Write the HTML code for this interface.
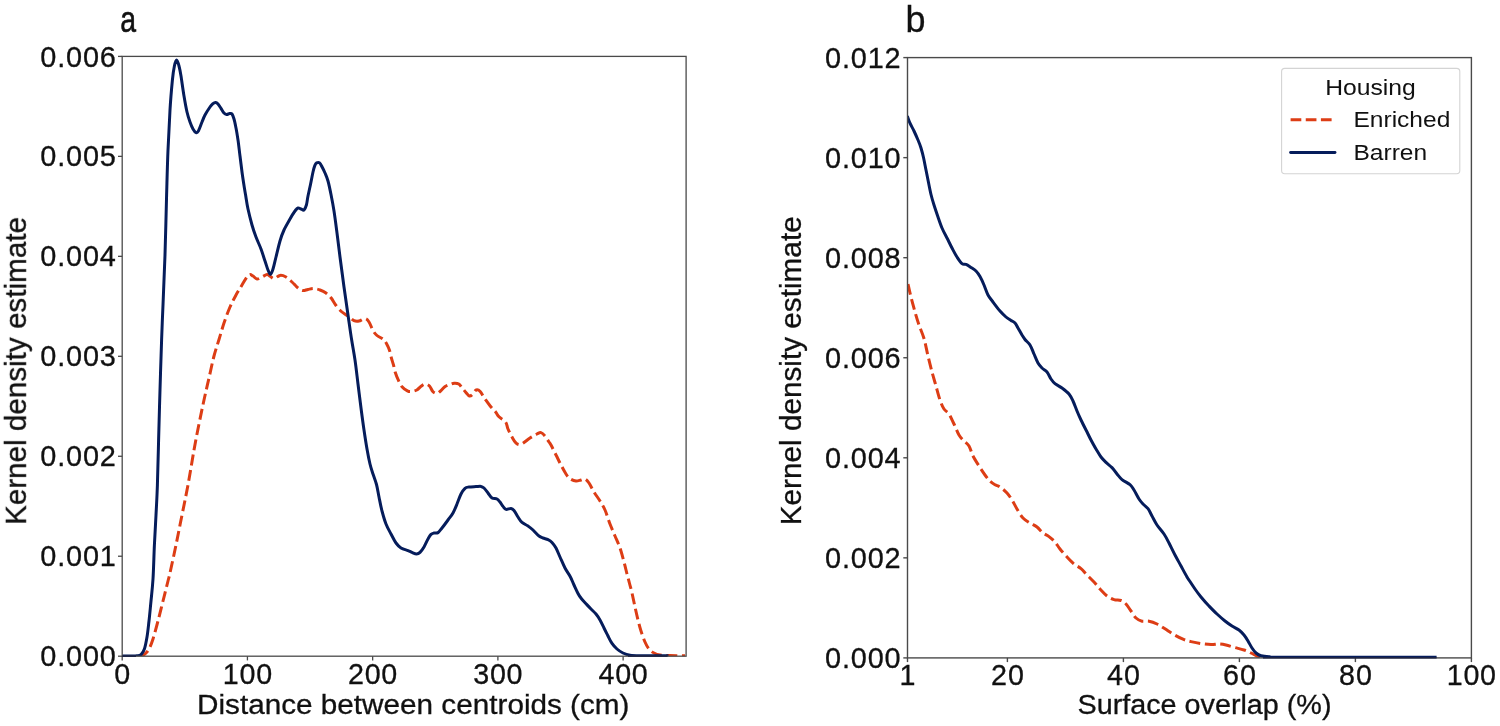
<!DOCTYPE html>
<html><head><meta charset="utf-8"><title>KDE</title><style>
html,body{margin:0;padding:0;background:#fff;}svg{display:block}text{font-family:"Liberation Sans",sans-serif;fill:#111111}
</style></head><body>
<svg width="1500" height="726" viewBox="0 0 1500 726">
<rect x="0" y="0" width="1500" height="726" fill="#ffffff"/>
<g style="opacity:0.999">
<defs><clipPath id="cl"><rect x="122.2" y="56.4" width="563.9" height="599.8000000000001"/></clipPath>
<clipPath id="cr"><rect x="907.5" y="57.6" width="563.9000000000001" height="600.3"/></clipPath></defs>
<line x1="118.0" y1="656.20" x2="122.2" y2="656.20" stroke="#4a4a4a" stroke-width="1.3"/>
<text x="40.3" y="666.3" font-size="28.9" text-anchor="start" textLength="75.6" lengthAdjust="spacing" stroke="#111111" stroke-width="0.3">0.000</text>
<line x1="118.0" y1="556.23" x2="122.2" y2="556.23" stroke="#4a4a4a" stroke-width="1.3"/>
<text x="40.3" y="566.33" font-size="28.9" text-anchor="start" textLength="75.6" lengthAdjust="spacing" stroke="#111111" stroke-width="0.3">0.001</text>
<line x1="118.0" y1="456.27" x2="122.2" y2="456.27" stroke="#4a4a4a" stroke-width="1.3"/>
<text x="40.3" y="466.37" font-size="28.9" text-anchor="start" textLength="75.6" lengthAdjust="spacing" stroke="#111111" stroke-width="0.3">0.002</text>
<line x1="118.0" y1="356.30" x2="122.2" y2="356.30" stroke="#4a4a4a" stroke-width="1.3"/>
<text x="40.3" y="366.4" font-size="28.9" text-anchor="start" textLength="75.6" lengthAdjust="spacing" stroke="#111111" stroke-width="0.3">0.003</text>
<line x1="118.0" y1="256.33" x2="122.2" y2="256.33" stroke="#4a4a4a" stroke-width="1.3"/>
<text x="40.3" y="266.43" font-size="28.9" text-anchor="start" textLength="75.6" lengthAdjust="spacing" stroke="#111111" stroke-width="0.3">0.004</text>
<line x1="118.0" y1="156.37" x2="122.2" y2="156.37" stroke="#4a4a4a" stroke-width="1.3"/>
<text x="40.3" y="166.47" font-size="28.9" text-anchor="start" textLength="75.6" lengthAdjust="spacing" stroke="#111111" stroke-width="0.3">0.005</text>
<line x1="118.0" y1="56.40" x2="122.2" y2="56.40" stroke="#4a4a4a" stroke-width="1.3"/>
<text x="40.3" y="66.5" font-size="28.9" text-anchor="start" textLength="75.6" lengthAdjust="spacing" stroke="#111111" stroke-width="0.3">0.006</text>
<line x1="122.20" y1="656.2" x2="122.20" y2="660.4000000000001" stroke="#4a4a4a" stroke-width="1.3"/>
<text x="122.2" y="683.5" font-size="28.7" text-anchor="middle" stroke="#111111" stroke-width="0.3">0</text>
<line x1="247.43" y1="656.2" x2="247.43" y2="660.4000000000001" stroke="#4a4a4a" stroke-width="1.3"/>
<text x="247.43" y="683.5" font-size="28.7" text-anchor="middle" textLength="49.35" lengthAdjust="spacing" stroke="#111111" stroke-width="0.3">100</text>
<line x1="372.66" y1="656.2" x2="372.66" y2="660.4000000000001" stroke="#4a4a4a" stroke-width="1.3"/>
<text x="372.66" y="683.5" font-size="28.7" text-anchor="middle" textLength="49.35" lengthAdjust="spacing" stroke="#111111" stroke-width="0.3">200</text>
<line x1="497.89" y1="656.2" x2="497.89" y2="660.4000000000001" stroke="#4a4a4a" stroke-width="1.3"/>
<text x="497.89" y="683.5" font-size="28.7" text-anchor="middle" textLength="49.35" lengthAdjust="spacing" stroke="#111111" stroke-width="0.3">300</text>
<line x1="623.12" y1="656.2" x2="623.12" y2="660.4000000000001" stroke="#4a4a4a" stroke-width="1.3"/>
<text x="623.12" y="683.5" font-size="28.7" text-anchor="middle" textLength="49.35" lengthAdjust="spacing" stroke="#111111" stroke-width="0.3">400</text>
<g clip-path="url(#cl)" fill="none" stroke-linejoin="round">
<path d="M141.0,656.0C141.7,655.7 143.7,655.2 145.0,654.0C146.3,652.8 147.7,651.5 149.0,649.0C150.3,646.5 151.5,643.7 153.0,639.0C154.5,634.3 156.3,627.3 158.0,621.0C159.7,614.7 161.3,607.7 163.0,601.0C164.7,594.3 166.8,585.7 168.0,581.0C169.2,576.3 168.7,579.0 170.0,573.0C171.3,567.0 174.0,554.7 176.0,545.0C178.0,535.3 180.0,525.0 182.0,515.0C184.0,505.0 186.0,495.8 188.0,485.0C190.0,474.2 192.2,460.2 194.0,450.0C195.8,439.8 197.3,432.3 199.0,424.0C200.7,415.7 202.3,407.7 204.0,400.0C205.7,392.3 207.3,385.3 209.0,378.0C210.7,370.7 212.3,362.4 214.0,356.0C215.7,349.6 217.3,345.0 219.0,339.5C220.7,334.0 222.2,328.4 224.0,323.0C225.8,317.6 228.0,311.7 230.0,307.0C232.0,302.3 234.0,298.7 236.0,295.0C238.0,291.3 240.2,288.0 242.0,285.0C243.8,282.0 245.7,278.7 247.0,277.0C248.3,275.3 249.0,274.8 250.0,274.6C251.0,274.4 251.8,275.3 253.0,276.0C254.2,276.7 255.5,278.8 257.0,279.0C258.5,279.2 260.3,277.7 262.0,277.0C263.7,276.3 265.6,274.7 267.0,274.6C268.4,274.5 269.3,275.8 270.5,276.5C271.7,277.2 272.4,278.8 274.0,278.6C275.6,278.4 278.0,275.7 280.0,275.4C282.0,275.1 284.0,275.9 286.0,277.0C288.0,278.1 290.0,280.2 292.0,282.0C294.0,283.8 296.2,286.6 298.0,288.0C299.8,289.4 301.3,290.4 303.0,290.6C304.7,290.8 306.2,289.7 308.0,289.4C309.8,289.1 312.0,288.5 314.0,288.6C316.0,288.7 318.0,289.3 320.0,290.0C322.0,290.7 324.2,291.7 326.0,293.0C327.8,294.3 329.3,295.7 331.0,297.8C332.7,299.9 334.2,303.1 336.0,305.5C337.8,307.9 340.0,310.2 342.0,312.0C344.0,313.8 346.0,314.6 348.0,316.0C350.0,317.4 352.2,319.8 354.0,320.6C355.8,321.4 357.2,321.3 359.0,321.0C360.8,320.7 363.3,318.4 365.0,318.6C366.7,318.8 367.7,320.0 369.0,322.0C370.3,324.0 371.7,328.2 373.0,330.5C374.3,332.8 375.3,334.0 377.0,335.5C378.7,337.0 381.8,338.0 383.4,339.4C385.0,340.8 385.7,342.2 386.7,344.0C387.7,345.8 388.6,347.7 389.4,350.0C390.2,352.3 390.7,355.6 391.4,358.0C392.1,360.4 392.7,362.2 393.4,364.7C394.1,367.2 394.6,370.4 395.4,372.8C396.2,375.2 396.9,377.1 398.0,379.4C399.1,381.7 400.4,384.9 402.0,386.8C403.6,388.7 405.8,390.0 407.4,390.8C409.0,391.6 409.8,391.6 411.4,391.5C413.0,391.4 415.1,390.9 416.8,390.0C418.5,389.1 420.0,387.0 421.4,386.0C422.8,385.0 424.0,384.0 425.4,384.0C426.8,384.0 428.3,384.8 429.5,386.0C430.7,387.2 431.6,390.2 432.8,391.5C434.0,392.8 435.6,393.5 436.8,393.5C438.0,393.5 438.7,392.6 440.0,391.5C441.3,390.4 443.1,388.0 444.8,386.8C446.5,385.6 448.4,385.1 450.0,384.5C451.6,383.9 452.7,383.3 454.2,383.2C455.7,383.1 457.5,383.2 458.8,384.0C460.1,384.8 461.1,386.7 462.2,388.0C463.3,389.3 464.3,390.7 465.5,392.0C466.7,393.3 468.3,395.7 469.5,396.0C470.7,396.3 471.8,395.0 472.9,394.0C474.0,393.0 475.0,390.4 476.2,390.0C477.4,389.6 478.8,390.0 480.2,391.5C481.6,393.0 483.2,396.4 484.9,398.8C486.6,401.2 488.4,403.8 490.2,406.0C492.0,408.2 494.1,410.2 495.6,412.0C497.1,413.8 497.3,415.1 499.0,416.8C500.7,418.5 504.1,420.0 505.6,422.0C507.1,424.0 506.9,426.5 508.0,429.0C509.1,431.5 510.7,434.7 512.0,437.0C513.3,439.3 514.5,441.8 516.0,443.0C517.5,444.2 518.7,445.2 521.0,444.4C523.3,443.6 527.3,439.7 530.0,438.0C532.7,436.3 535.2,434.9 537.0,434.0C538.8,433.1 539.7,432.3 541.0,432.6C542.3,432.9 543.7,434.4 545.0,436.0C546.3,437.6 548.0,440.5 549.0,442.0C550.0,443.5 549.8,442.8 551.0,445.0C552.2,447.2 554.3,451.7 556.0,455.0C557.7,458.3 559.3,461.8 561.0,465.0C562.7,468.2 564.5,471.7 566.0,474.0C567.5,476.3 568.3,477.4 570.0,478.6C571.7,479.8 574.2,480.8 576.0,481.0C577.8,481.2 579.5,480.3 581.0,480.0C582.5,479.7 583.7,478.5 585.0,479.0C586.3,479.5 587.5,480.8 589.0,483.0C590.5,485.2 592.2,489.0 594.0,492.0C595.8,495.0 598.2,498.0 600.0,501.0C601.8,504.0 603.3,506.2 605.0,510.0C606.7,513.8 608.3,519.7 610.0,524.0C611.7,528.3 613.3,532.0 615.0,536.0C616.7,540.0 618.5,543.7 620.0,548.0C621.5,552.3 622.8,557.7 624.0,562.0C625.2,566.3 626.1,570.5 627.0,574.0C627.9,577.5 628.6,579.8 629.4,583.0C630.2,586.2 631.1,589.0 632.0,593.0C632.9,597.0 634.0,602.5 635.0,607.0C636.0,611.5 637.0,616.0 638.0,620.0C639.0,624.0 639.8,627.3 641.0,631.0C642.2,634.7 643.7,639.0 645.0,642.0C646.3,645.0 647.5,647.2 649.0,649.0C650.5,650.8 652.2,652.0 654.0,653.0C655.8,654.0 657.3,654.6 660.0,655.0C662.7,655.4 665.8,655.5 670.0,655.6C674.2,655.7 682.5,655.8 685.0,655.8" stroke="#dd3d15" stroke-width="3.0" stroke-dasharray="10.9 4.6" stroke-dashoffset="2"/>
<path d="M122.2,656.0C124.0,656.0 130.5,656.0 133.0,656.0C135.5,656.0 135.7,656.0 137.0,655.8C138.3,655.6 139.8,655.7 141.0,654.6C142.2,653.5 143.4,651.9 144.4,649.0C145.4,646.1 146.2,641.7 147.0,637.0C147.8,632.3 148.3,627.0 149.0,621.0C149.7,615.0 150.3,608.0 151.0,601.0C151.7,594.0 152.4,588.3 153.0,579.0C153.6,569.7 153.9,555.7 154.4,545.0C154.9,534.3 155.5,525.0 156.0,515.0C156.5,505.0 157.0,497.5 157.4,485.0C157.8,472.5 158.2,455.8 158.6,440.0C159.0,424.2 159.5,406.7 160.0,390.0C160.5,373.3 161.1,354.2 161.6,340.0C162.1,325.8 162.4,319.2 163.0,305.0C163.6,290.8 164.4,273.3 165.0,255.0C165.6,236.7 166.1,212.5 166.6,195.0C167.1,177.5 167.4,164.2 168.0,150.0C168.6,135.8 169.3,121.7 170.0,110.0C170.7,98.3 171.7,87.3 172.4,80.0C173.1,72.7 173.7,69.3 174.4,66.0C175.1,62.7 175.8,60.0 176.6,60.0C177.4,60.0 178.3,63.3 179.0,66.0C179.7,68.7 180.2,71.0 181.0,76.0C181.8,81.0 183.0,90.0 184.0,96.0C185.0,102.0 186.0,107.7 187.0,112.0C188.0,116.3 189.0,119.2 190.0,122.0C191.0,124.8 192.0,127.2 193.0,129.0C194.0,130.8 195.1,132.3 196.0,132.6C196.9,132.9 197.4,132.8 198.4,131.0C199.4,129.2 200.9,124.7 202.0,122.0C203.1,119.3 203.7,117.5 205.0,115.0C206.3,112.5 208.7,108.9 210.0,107.0C211.3,105.1 212.1,104.4 213.0,103.6C213.9,102.8 214.8,102.3 215.6,102.4C216.4,102.5 217.1,103.0 218.0,104.0C218.9,105.0 220.0,106.9 221.0,108.4C222.0,109.9 223.1,112.0 224.0,113.0C224.9,114.0 225.7,114.3 226.6,114.4C227.5,114.5 228.7,113.7 229.6,113.6C230.5,113.5 231.3,113.1 232.0,114.0C232.7,114.9 233.3,116.7 234.0,119.0C234.7,121.3 235.3,124.5 236.0,128.0C236.7,131.5 237.3,135.3 238.0,140.0C238.7,144.7 239.3,150.7 240.0,156.0C240.7,161.3 241.3,166.7 242.0,172.0C242.7,177.3 243.8,184.2 244.4,188.0C245.0,191.8 245.0,191.5 245.6,195.0C246.2,198.5 246.9,204.0 248.0,209.0C249.1,214.0 250.7,220.3 252.0,225.0C253.3,229.7 254.5,233.0 256.0,237.0C257.5,241.0 259.5,245.0 261.0,249.0C262.5,253.0 263.8,257.5 265.0,261.0C266.2,264.5 267.1,267.8 268.0,270.0C268.9,272.2 269.6,274.6 270.4,274.4C271.2,274.2 272.1,271.9 273.0,269.0C273.9,266.1 274.8,261.7 276.0,257.0C277.2,252.3 278.7,245.5 280.0,241.0C281.3,236.5 282.3,233.7 284.0,230.0C285.7,226.3 288.2,222.2 290.0,219.0C291.8,215.8 293.7,212.8 295.0,211.0C296.3,209.2 297.0,208.3 298.0,208.0C299.0,207.7 300.0,208.7 301.0,209.0C302.0,209.3 303.1,210.7 304.0,210.0C304.9,209.3 305.7,207.3 306.4,205.0C307.1,202.7 307.2,199.8 308.0,196.0C308.8,192.2 310.2,186.0 311.0,182.0C311.8,178.0 312.4,174.7 313.0,172.0C313.6,169.3 314.2,167.1 314.8,165.6C315.4,164.1 315.8,163.3 316.6,162.9C317.4,162.5 318.7,162.2 319.6,162.9C320.5,163.6 321.1,165.1 322.0,166.8C322.9,168.5 324.0,170.6 325.0,173.0C326.0,175.4 327.0,177.4 328.0,181.0C329.0,184.6 330.0,189.5 331.0,194.5C332.0,199.5 333.0,204.6 334.0,211.0C335.0,217.4 336.0,225.3 337.0,233.0C338.0,240.7 338.8,248.0 340.0,257.0C341.2,266.0 342.7,277.3 344.0,287.0C345.3,296.7 346.7,306.2 348.0,315.0C349.3,323.8 350.4,332.0 351.6,339.5C352.8,347.0 353.9,352.6 355.0,360.0C356.1,367.4 357.0,376.0 358.0,384.0C359.0,392.0 360.0,400.3 361.0,408.0C362.0,415.7 363.0,423.2 364.0,430.0C365.0,436.8 366.0,443.3 367.0,449.0C368.0,454.7 369.0,459.8 370.0,464.0C371.0,468.2 371.9,470.6 373.0,474.0C374.1,477.4 375.5,480.7 376.5,484.5C377.5,488.3 378.1,492.6 379.0,497.0C379.9,501.4 380.8,506.5 382.0,511.0C383.2,515.5 384.5,520.2 386.0,524.0C387.5,527.8 389.3,530.8 391.0,534.0C392.7,537.2 394.3,540.7 396.0,543.0C397.7,545.3 399.0,546.7 401.0,548.0C403.0,549.3 406.2,549.9 408.0,550.6C409.8,551.3 410.6,551.8 412.0,552.4C413.4,553.0 415.3,554.0 416.6,554.0C417.9,554.0 418.8,553.6 420.0,552.4C421.2,551.2 422.7,549.2 424.0,547.0C425.3,544.8 426.8,541.1 428.0,539.0C429.2,536.9 430.0,535.4 431.0,534.4C432.0,533.4 432.8,533.3 434.0,533.0C435.2,532.7 436.7,533.4 438.0,532.6C439.3,531.8 440.3,530.1 442.0,528.0C443.7,525.9 446.2,522.5 448.0,520.0C449.8,517.5 451.5,515.7 453.0,513.0C454.5,510.3 455.7,507.2 457.0,504.0C458.3,500.8 459.7,496.6 461.0,494.0C462.3,491.4 463.7,489.6 465.0,488.4C466.3,487.2 467.2,487.3 469.0,487.0C470.8,486.7 474.0,486.7 476.0,486.6C478.0,486.5 479.7,486.2 481.0,486.4C482.3,486.6 482.8,486.9 484.0,488.0C485.2,489.1 486.7,491.3 488.0,493.0C489.3,494.7 490.5,497.0 492.0,498.0C493.5,499.0 495.7,498.3 497.0,499.0C498.3,499.7 499.0,500.8 500.0,502.0C501.0,503.2 502.0,505.2 503.0,506.4C504.0,507.6 504.7,509.1 506.0,509.4C507.3,509.7 509.7,508.2 511.0,508.4C512.3,508.6 512.8,509.0 514.0,510.4C515.2,511.8 516.7,515.0 518.0,517.0C519.3,519.0 520.3,520.9 522.0,522.4C523.7,523.9 526.2,524.7 528.0,526.0C529.8,527.3 531.2,528.3 533.0,530.0C534.8,531.7 537.3,534.7 539.0,536.0C540.7,537.3 541.5,537.4 543.0,538.0C544.5,538.6 546.5,538.9 548.0,539.6C549.5,540.3 550.7,541.0 552.0,542.4C553.3,543.8 554.7,545.6 556.0,548.0C557.3,550.4 558.5,553.7 560.0,557.0C561.5,560.3 563.3,564.7 565.0,568.0C566.7,571.3 568.8,573.9 570.3,576.7C571.8,579.5 572.7,582.2 574.0,585.0C575.3,587.8 576.8,591.2 578.0,593.5C579.2,595.8 580.2,597.2 581.5,598.8C582.8,600.4 583.9,601.5 585.5,603.2C587.1,604.9 589.2,607.2 591.0,609.0C592.8,610.8 594.5,612.2 596.0,614.0C597.5,615.8 598.7,617.7 600.0,620.0C601.3,622.3 602.7,625.3 604.0,628.0C605.3,630.7 606.7,633.4 608.0,636.0C609.3,638.6 610.5,641.2 612.0,643.4C613.5,645.6 615.2,647.4 617.0,649.0C618.8,650.6 620.8,652.0 623.0,653.0C625.2,654.0 627.2,654.7 630.0,655.2C632.8,655.7 633.8,655.7 640.0,655.8C646.2,655.9 662.5,655.8 667.0,655.8" stroke="#051c5b" stroke-width="3.0" stroke-linecap="square"/>
</g>
<rect x="122.2" y="56.4" width="563.9" height="599.8" fill="none" stroke="#4a4a4a" stroke-width="1.3"/>
<line x1="122.2" y1="656.2" x2="136.0" y2="656.2" stroke="#121a42" stroke-width="1.3"/>
<line x1="628.0" y1="656.2" x2="667.5" y2="656.2" stroke="#121a42" stroke-width="1.3"/>
<text x="197.0" y="714.4" font-size="28.4" text-anchor="start" textLength="432.5" lengthAdjust="spacingAndGlyphs" stroke="#111111" stroke-width="0.3">Distance between centroids (cm)</text>
<text x="25.9" y="525" font-size="28.6" text-anchor="start" textLength="308" lengthAdjust="spacingAndGlyphs" transform="rotate(-90 25.9 525)" stroke="#111111" stroke-width="0.3">Kernel density estimate</text>
<text x="120.2" y="31.7" font-size="37.5" text-anchor="start" textLength="15.8" lengthAdjust="spacingAndGlyphs" stroke="#111111" stroke-width="0.6">a</text>
<line x1="903.3" y1="657.90" x2="907.5" y2="657.90" stroke="#4a4a4a" stroke-width="1.4"/>
<text x="825.1" y="668.0" font-size="28.9" text-anchor="start" textLength="75.6" lengthAdjust="spacing" stroke="#111111" stroke-width="0.3">0.000</text>
<line x1="903.3" y1="557.85" x2="907.5" y2="557.85" stroke="#4a4a4a" stroke-width="1.4"/>
<text x="825.1" y="567.95" font-size="28.9" text-anchor="start" textLength="75.6" lengthAdjust="spacing" stroke="#111111" stroke-width="0.3">0.002</text>
<line x1="903.3" y1="457.80" x2="907.5" y2="457.80" stroke="#4a4a4a" stroke-width="1.4"/>
<text x="825.1" y="467.9" font-size="28.9" text-anchor="start" textLength="75.6" lengthAdjust="spacing" stroke="#111111" stroke-width="0.3">0.004</text>
<line x1="903.3" y1="357.75" x2="907.5" y2="357.75" stroke="#4a4a4a" stroke-width="1.4"/>
<text x="825.1" y="367.85" font-size="28.9" text-anchor="start" textLength="75.6" lengthAdjust="spacing" stroke="#111111" stroke-width="0.3">0.006</text>
<line x1="903.3" y1="257.70" x2="907.5" y2="257.70" stroke="#4a4a4a" stroke-width="1.4"/>
<text x="825.1" y="267.8" font-size="28.9" text-anchor="start" textLength="75.6" lengthAdjust="spacing" stroke="#111111" stroke-width="0.3">0.008</text>
<line x1="903.3" y1="157.65" x2="907.5" y2="157.65" stroke="#4a4a4a" stroke-width="1.4"/>
<text x="825.1" y="167.75" font-size="28.9" text-anchor="start" textLength="75.6" lengthAdjust="spacing" stroke="#111111" stroke-width="0.3">0.010</text>
<line x1="903.3" y1="57.60" x2="907.5" y2="57.60" stroke="#4a4a4a" stroke-width="1.4"/>
<text x="825.1" y="67.7" font-size="28.9" text-anchor="start" textLength="75.6" lengthAdjust="spacing" stroke="#111111" stroke-width="0.3">0.012</text>
<line x1="907.50" y1="657.9" x2="907.50" y2="662.1" stroke="#4a4a4a" stroke-width="1.4"/>
<text x="907.5" y="685.3" font-size="28.7" text-anchor="middle" stroke="#111111" stroke-width="0.3">1</text>
<line x1="1007.40" y1="657.9" x2="1007.40" y2="662.1" stroke="#4a4a4a" stroke-width="1.4"/>
<text x="1007.4" y="685.3" font-size="28.7" text-anchor="middle" textLength="32.9" lengthAdjust="spacing" stroke="#111111" stroke-width="0.3">20</text>
<line x1="1123.40" y1="657.9" x2="1123.40" y2="662.1" stroke="#4a4a4a" stroke-width="1.4"/>
<text x="1123.4" y="685.3" font-size="28.7" text-anchor="middle" textLength="32.9" lengthAdjust="spacing" stroke="#111111" stroke-width="0.3">40</text>
<line x1="1239.40" y1="657.9" x2="1239.40" y2="662.1" stroke="#4a4a4a" stroke-width="1.4"/>
<text x="1239.4" y="685.3" font-size="28.7" text-anchor="middle" textLength="32.9" lengthAdjust="spacing" stroke="#111111" stroke-width="0.3">60</text>
<line x1="1355.40" y1="657.9" x2="1355.40" y2="662.1" stroke="#4a4a4a" stroke-width="1.4"/>
<text x="1355.4" y="685.3" font-size="28.7" text-anchor="middle" textLength="32.9" lengthAdjust="spacing" stroke="#111111" stroke-width="0.3">80</text>
<line x1="1471.40" y1="657.9" x2="1471.40" y2="662.1" stroke="#4a4a4a" stroke-width="1.4"/>
<text x="1471.4" y="685.3" font-size="28.7" text-anchor="middle" textLength="49.35" lengthAdjust="spacing" stroke="#111111" stroke-width="0.3">100</text>
<g clip-path="url(#cr)" fill="none" stroke-linejoin="round">
<path d="M908.0,284.0C908.5,286.2 909.8,292.3 911.0,297.0C912.2,301.7 913.7,307.3 915.0,312.0C916.3,316.7 917.5,320.6 919.0,325.0C920.5,329.4 922.5,333.3 924.0,338.5C925.5,343.7 926.7,350.4 928.0,356.0C929.3,361.6 930.7,367.0 932.0,372.0C933.3,377.0 934.7,381.3 936.0,386.0C937.3,390.7 938.7,396.2 940.0,400.0C941.3,403.8 942.5,406.7 944.0,409.0C945.5,411.3 947.3,411.5 949.0,414.0C950.7,416.5 952.3,420.5 954.0,424.0C955.7,427.5 957.3,432.2 959.0,435.0C960.7,437.8 962.3,439.2 964.0,441.0C965.7,442.8 967.5,443.5 969.0,446.0C970.5,448.5 971.3,452.7 973.0,456.0C974.7,459.3 977.0,462.8 979.0,466.0C981.0,469.2 983.2,472.5 985.0,475.0C986.8,477.5 988.3,479.4 990.0,481.0C991.7,482.6 993.3,483.7 995.0,484.7C996.7,485.7 998.0,485.6 1000.0,487.0C1002.0,488.4 1005.0,490.8 1007.0,493.0C1009.0,495.2 1010.3,497.3 1012.0,500.0C1013.7,502.7 1015.2,506.0 1017.0,509.0C1018.8,512.0 1020.8,515.7 1023.0,518.0C1025.2,520.3 1027.7,521.5 1030.0,523.0C1032.3,524.5 1034.8,525.3 1037.0,527.0C1039.2,528.7 1041.0,531.4 1043.0,533.0C1045.0,534.6 1047.0,535.1 1049.0,536.6C1051.0,538.1 1053.2,539.9 1055.0,542.0C1056.8,544.1 1058.0,546.5 1060.0,549.0C1062.0,551.5 1064.7,554.5 1067.0,557.0C1069.3,559.5 1071.7,562.1 1074.0,564.0C1076.3,565.9 1078.8,566.8 1081.0,568.6C1083.2,570.4 1084.8,572.8 1087.0,575.0C1089.2,577.2 1091.8,579.7 1094.0,582.0C1096.2,584.3 1097.8,586.7 1100.0,589.0C1102.2,591.3 1104.7,594.2 1107.0,596.0C1109.3,597.8 1111.7,598.9 1114.0,599.6C1116.3,600.4 1119.0,599.8 1121.0,600.5C1123.0,601.2 1124.3,602.2 1126.0,604.0C1127.7,605.8 1129.3,608.7 1131.0,611.0C1132.7,613.3 1134.2,616.3 1136.0,618.0C1137.8,619.7 1139.8,620.7 1142.0,621.2C1144.2,621.7 1146.5,620.7 1149.0,621.2C1151.5,621.7 1154.3,622.7 1157.0,624.0C1159.7,625.3 1162.2,627.0 1165.0,628.8C1167.8,630.6 1171.0,632.9 1174.0,634.6C1177.0,636.3 1180.2,638.0 1183.0,639.2C1185.8,640.4 1188.0,640.9 1191.0,641.6C1194.0,642.3 1197.7,643.1 1201.0,643.6C1204.3,644.1 1208.0,644.5 1211.0,644.6C1214.0,644.7 1216.5,643.9 1219.0,644.0C1221.5,644.1 1223.3,644.4 1226.0,645.0C1228.7,645.6 1232.0,646.8 1235.0,647.6C1238.0,648.4 1241.3,649.1 1244.0,650.0C1246.7,650.9 1248.8,652.0 1251.0,653.0C1253.2,654.0 1255.2,655.3 1257.0,656.0C1258.8,656.7 1261.2,656.8 1262.0,657.0" stroke="#dd3d15" stroke-width="3.0" stroke-dasharray="10.9 4.6" stroke-dashoffset="0"/>
<path d="M907.3,116.2C907.8,117.4 908.9,120.7 910.0,123.2C911.1,125.7 912.7,128.2 914.0,131.0C915.3,133.8 916.8,137.2 918.0,140.0C919.2,142.8 920.1,145.0 921.0,148.0C921.9,151.0 922.8,154.3 923.6,158.0C924.4,161.7 925.2,166.0 926.0,170.0C926.8,174.0 927.6,177.9 928.4,182.0C929.2,186.1 930.1,190.7 931.0,194.5C931.9,198.3 932.8,201.2 934.0,205.0C935.2,208.8 936.7,213.2 938.0,217.0C939.3,220.8 940.5,224.5 942.0,228.0C943.5,231.5 945.3,234.7 947.0,238.0C948.7,241.3 950.3,244.8 952.0,248.0C953.7,251.2 955.3,254.4 957.0,257.0C958.7,259.6 960.5,262.4 962.0,263.6C963.5,264.8 964.5,263.8 966.0,264.4C967.5,265.0 969.3,266.3 971.0,267.4C972.7,268.5 974.5,269.5 976.0,271.0C977.5,272.5 978.7,274.3 980.0,276.6C981.3,278.9 982.7,281.9 984.0,285.0C985.3,288.1 986.5,292.2 988.0,295.0C989.5,297.8 991.0,299.3 993.0,302.0C995.0,304.7 997.8,308.5 1000.0,311.0C1002.2,313.5 1004.2,315.4 1006.0,317.0C1007.8,318.6 1009.5,319.4 1011.0,320.4C1012.5,321.4 1013.8,321.7 1015.0,323.0C1016.2,324.3 1016.8,326.0 1018.0,328.0C1019.2,330.0 1020.8,333.1 1022.0,335.0C1023.2,336.9 1023.7,337.8 1025.0,339.5C1026.3,341.2 1028.5,342.6 1030.0,345.0C1031.5,347.4 1032.7,351.0 1034.0,354.0C1035.3,357.0 1036.7,360.7 1038.0,363.0C1039.3,365.3 1040.5,366.5 1042.0,368.0C1043.5,369.5 1045.5,370.2 1047.0,372.0C1048.5,373.8 1049.7,377.1 1051.0,379.0C1052.3,380.9 1053.2,382.1 1055.0,383.6C1056.8,385.1 1059.7,386.3 1062.0,388.0C1064.3,389.7 1067.2,391.8 1069.0,394.0C1070.8,396.2 1071.7,398.2 1073.0,401.0C1074.3,403.8 1075.7,407.8 1077.0,411.0C1078.3,414.2 1079.5,416.8 1081.0,420.0C1082.5,423.2 1084.3,426.7 1086.0,430.0C1087.7,433.3 1089.3,436.8 1091.0,440.0C1092.7,443.2 1094.3,446.2 1096.0,449.0C1097.7,451.8 1099.3,454.8 1101.0,457.0C1102.7,459.2 1104.2,460.6 1106.0,462.4C1107.8,464.2 1110.2,465.7 1112.0,467.6C1113.8,469.5 1115.3,472.0 1117.0,474.0C1118.7,476.0 1119.8,477.8 1122.0,479.6C1124.2,481.4 1128.0,483.0 1130.0,484.7C1132.0,486.4 1132.5,487.6 1134.0,490.0C1135.5,492.4 1137.5,496.7 1139.0,499.0C1140.5,501.3 1141.5,502.4 1143.0,504.0C1144.5,505.6 1146.5,506.6 1148.0,508.6C1149.5,510.6 1150.5,513.3 1152.0,516.0C1153.5,518.7 1155.0,522.0 1157.0,525.0C1159.0,528.0 1162.0,531.0 1164.0,534.0C1166.0,537.0 1167.2,539.5 1169.0,543.0C1170.8,546.5 1173.0,551.2 1175.0,555.0C1177.0,558.8 1179.0,562.3 1181.0,566.0C1183.0,569.7 1185.5,574.4 1187.0,577.0C1188.5,579.6 1188.7,579.5 1190.0,581.5C1191.3,583.5 1193.2,586.4 1195.0,589.0C1196.8,591.6 1198.7,594.2 1201.0,597.0C1203.3,599.8 1206.3,603.2 1209.0,606.0C1211.7,608.8 1214.3,611.5 1217.0,614.0C1219.7,616.5 1222.5,619.0 1225.0,621.0C1227.5,623.0 1229.7,624.5 1232.0,626.0C1234.3,627.5 1237.0,628.5 1239.0,630.0C1241.0,631.5 1242.5,633.2 1244.0,635.0C1245.5,636.8 1246.7,638.8 1248.0,641.0C1249.3,643.2 1250.7,646.0 1252.0,648.0C1253.3,650.0 1254.5,651.7 1256.0,653.0C1257.5,654.3 1258.8,655.2 1261.0,655.8C1263.2,656.4 1265.0,656.6 1269.0,656.8C1273.0,657.0 1257.1,657.1 1285.0,657.2C1312.9,657.3 1411.3,657.2 1436.6,657.2" stroke="#051c5b" stroke-width="3.0" stroke-linecap="butt"/>
</g>
<rect x="907.5" y="57.6" width="563.9" height="600.3" fill="none" stroke="#4a4a4a" stroke-width="1.4"/>
<line x1="1263" y1="657.9" x2="1436.6" y2="657.9" stroke="#121a42" stroke-width="1.4"/>
<text x="1077.5" y="714.4" font-size="28.4" text-anchor="start" textLength="254" lengthAdjust="spacingAndGlyphs" stroke="#111111" stroke-width="0.3">Surface overlap (%)</text>
<text x="801.2" y="525.3" font-size="28.6" text-anchor="start" textLength="309" lengthAdjust="spacingAndGlyphs" transform="rotate(-90 801.2 525.3)" stroke="#111111" stroke-width="0.3">Kernel density estimate</text>
<text x="905.5" y="31.6" font-size="37.5" text-anchor="start" textLength="20" lengthAdjust="spacingAndGlyphs" stroke="#111111" stroke-width="0.3">b</text>
<rect x="1281.6" y="68.4" width="178.2" height="105.3" rx="3.2" ry="3.2" fill="#ffffff" fill-opacity="0.8" stroke="#d4d4d4" stroke-width="1.1"/>
<text x="1325.2" y="94.7" font-size="21.6" text-anchor="start" textLength="90.6" lengthAdjust="spacingAndGlyphs">Housing</text>
<text x="1353.5" y="127.1" font-size="21.6" text-anchor="start" textLength="96.8" lengthAdjust="spacingAndGlyphs">Enriched</text>
<text x="1353.5" y="160.1" font-size="21.6" text-anchor="start" textLength="73.6" lengthAdjust="spacingAndGlyphs">Barren</text>
<line x1="1290.6" y1="119.8" x2="1332.3" y2="119.8" stroke="#dd3d15" stroke-width="2.9" stroke-dasharray="10.7 4.45"/>
<line x1="1290.6" y1="152.55" x2="1335.0" y2="152.55" stroke="#051c5b" stroke-width="2.9" stroke-linecap="round"/>
</g></svg></body></html>
